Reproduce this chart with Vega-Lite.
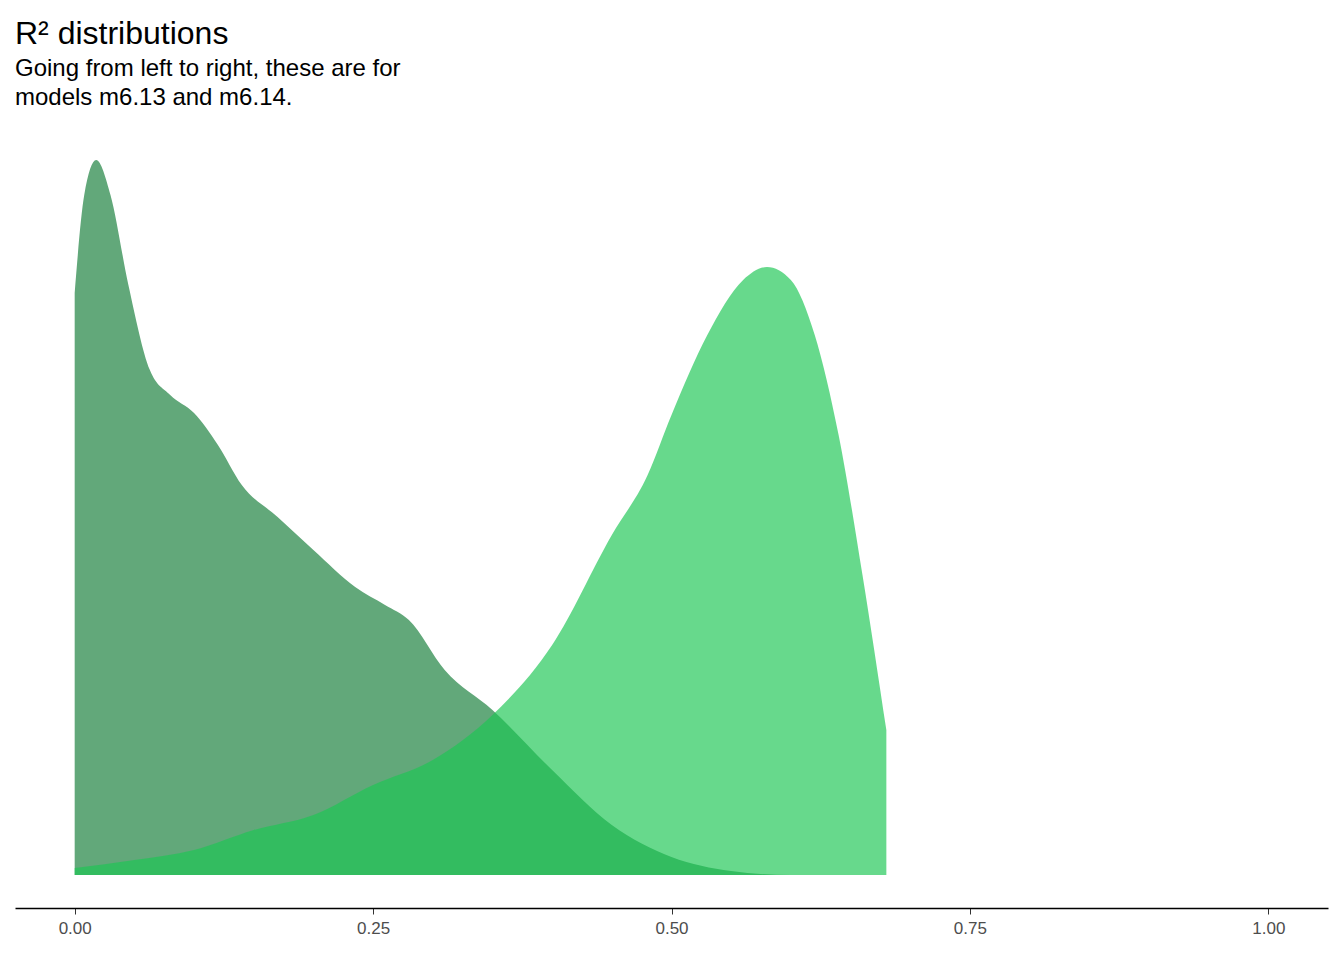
{
"$schema":"https://vega.github.io/schema/vega-lite/v6.json",
"width":1313,"height":763,
"padding":{"left":15,"top":18,"right":16,"bottom":10},
"background":"white",
"title":{"text":"R² distributions","subtitle":["Going from left to right, these are for","models m6.13 and m6.14."],"anchor":"start","frame":"group","fontSize":32,"fontWeight":"normal","font":"Liberation Sans","subtitleFont":"Liberation Sans","subtitleFontSize":24,"subtitleLineHeight":29,"subtitleColor":"black","color":"black","offset":34,"subtitlePadding":6},
"config":{"view":{"stroke":null},"font":"Liberation Sans"},
"datasets":{
"a":[{"x":0,"y":582},{"x":0.008,"y":680},{"x":0.018,"y":715},{"x":0.03,"y":680},{"x":0.045,"y":590},{"x":0.063,"y":505},{"x":0.08,"y":480},{"x":0.1,"y":462},{"x":0.12,"y":430},{"x":0.14,"y":390},{"x":0.17,"y":358},{"x":0.2,"y":325},{"x":0.235,"y":288},{"x":0.26,"y":270},{"x":0.28,"y":255},{"x":0.31,"y":205},{"x":0.35,"y":165},{"x":0.4,"y":105},{"x":0.45,"y":50},{"x":0.5,"y":18},{"x":0.55,"y":4},{"x":0.6,"y":0},{"x":0.68,"y":0}],
"b":[{"x":0,"y":7},{"x":0.05,"y":15},{"x":0.1,"y":25},{"x":0.15,"y":45},{"x":0.2,"y":60},{"x":0.25,"y":90},{"x":0.3,"y":115},{"x":0.35,"y":160},{"x":0.4,"y":230},{"x":0.45,"y":340},{"x":0.48,"y":400},{"x":0.5,"y":460},{"x":0.53,"y":540},{"x":0.56,"y":595},{"x":0.58,"y":608},{"x":0.6,"y":595},{"x":0.62,"y":540},{"x":0.64,"y":440},{"x":0.66,"y":300},{"x":0.68,"y":145}]
},
"layer":[
{"data":{"name":"a"},"mark":{"type":"area","interpolate":"monotone","color":"#62A87A"},
"encoding":{"x":{"field":"x","type":"quantitative","scale":{"domain":[-0.05,1.05],"nice":false},"axis":{"values":[0,0.25,0.5,0.75,1],"format":".2f","title":null,"grid":false,"domainColor":"black","domainWidth":1.5,"tickColor":"#333","tickSize":6,"labelColor":"#4d4d4d","labelFontSize":17,"labelPadding":6}},
"y":{"field":"y","type":"quantitative","scale":{"domain":[-33,730],"nice":false,"zero":false},"axis":null}}},
{"data":{"name":"b"},"mark":{"type":"area","interpolate":"monotone","color":"#1CC654","opacity":0.67},
"encoding":{"x":{"field":"x","type":"quantitative"},"y":{"field":"y","type":"quantitative"}}}
]
}
